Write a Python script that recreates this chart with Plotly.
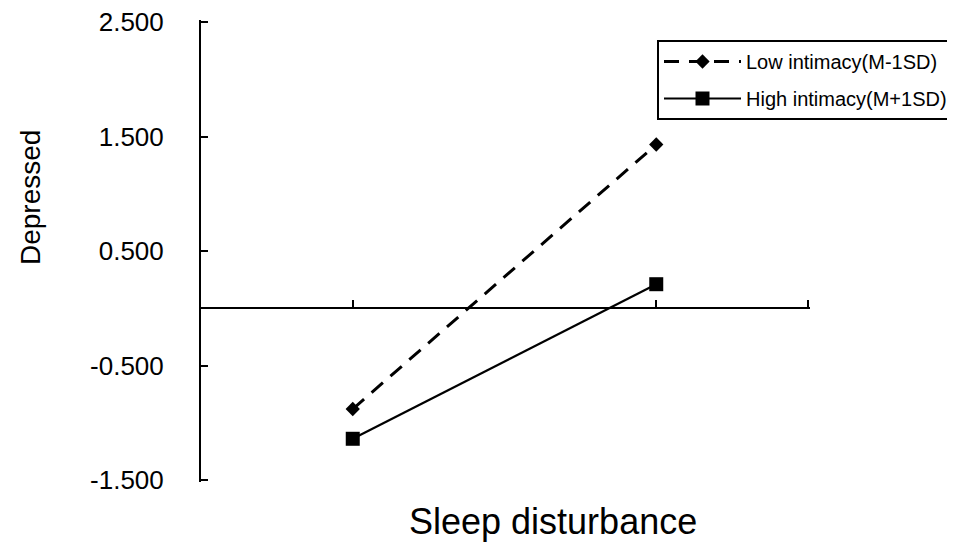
import plotly.graph_objects as go

categories = [0, 1]
low_intimacy = [-0.88, 1.43]
high_intimacy = [-1.14, 0.21]
series_names = ["Low intimacy(M-1SD)", "High intimacy(M+1SD)"]
y_tickvals = [-1.5, -0.5, 0.5, 1.5, 2.5]
y_ticktext = ["-1.500", "-0.500", "0.500", "1.500", "2.500"]
x_tickvals = [0, 1, 1.5]
x_title = "Sleep disturbance"
y_title = "Depressed"

FONT = "Liberation Sans, Arial, sans-serif"
OFF = 8  # page body margin

# target (screenshot px): y axis x=201, x-axis end x=808, y 2.5 at 22, -1.5 at 480
PADPX = 2
y_ppu = 458 / 4.0
x_ppu = 607 / 2.0
ey = PADPX / y_ppu
ex = PADPX / x_ppu
y_range = [-1.5 - ey, 2.5 + ey]
x_range = [-0.5, 1.5 + ex]

L = 201 - OFF
T = 22 - OFF - PADPX
W = 607 + PADPX
H = 458 + 2 * PADPX


def xp(px):
    return (px - OFF - L) / W


def yp(py):
    return (T + H - (py - OFF)) / H


fig = go.Figure()
fig.add_trace(go.Scatter(
    x=categories, y=low_intimacy, name=series_names[0], mode="lines+markers",
    line=dict(color="black", width=3, dash="15px,10px"),
    marker=dict(symbol="diamond", size=11, color="black"),
    legendgroup="a",
))
fig.add_trace(go.Scatter(
    x=categories, y=high_intimacy, name=series_names[1], mode="lines+markers",
    line=dict(color="black", width=2.2),
    marker=dict(symbol="square", size=14, color="black"),
    legendgroup="b",
))

fig.update_layout(
    template="none",
    width=955, height=546,
    margin=dict(l=L, r=955 - L - W, t=T, b=546 - T - H, pad=0, autoexpand=False),
    paper_bgcolor="white", plot_bgcolor="white",
    font=dict(family=FONT, color="black"),
    showlegend=True,
    legend=dict(
        x=xp(657), y=yp(40), xanchor="left", yanchor="top",
        bordercolor="black", borderwidth=2, bgcolor="white",
        font=dict(size=20, family=FONT, color="black"),
        traceorder="grouped", tracegroupgap=8, itemwidth=77,
    ),
    xaxis=dict(
        range=x_range, tickvals=x_tickvals, showticklabels=False,
        ticks="inside", ticklen=7, tickwidth=2, tickcolor="black",
        showline=True, linecolor="black", linewidth=2,
        showgrid=False, zeroline=False, automargin=False,
        anchor="free", position=(0 - y_range[0]) / (y_range[1] - y_range[0]),
    ),
    yaxis=dict(
        range=y_range, tickvals=y_tickvals, ticktext=y_ticktext,
        ticks="inside", ticklen=7, tickwidth=2, tickcolor="black",
        showline=True, linecolor="black", linewidth=2,
        showgrid=False, zeroline=False, automargin=False,
        tickfont=dict(size=26, family=FONT, color="black"),
        ticklabelstandoff=30, ticklabeloverflow="allow",
    ),
    annotations=[
        dict(text=y_title, xref="paper", yref="paper",
             x=xp(30), y=yp(198), textangle=-90,
             showarrow=False, xanchor="center", yanchor="middle",
             font=dict(size=28, family=FONT, color="black")),
        dict(text=x_title, xref="paper", yref="paper",
             x=xp(553), y=yp(521),
             showarrow=False, xanchor="center", yanchor="middle",
             font=dict(size=36, family=FONT, color="black")),
    ],
)

fig.write_html("out.html")
